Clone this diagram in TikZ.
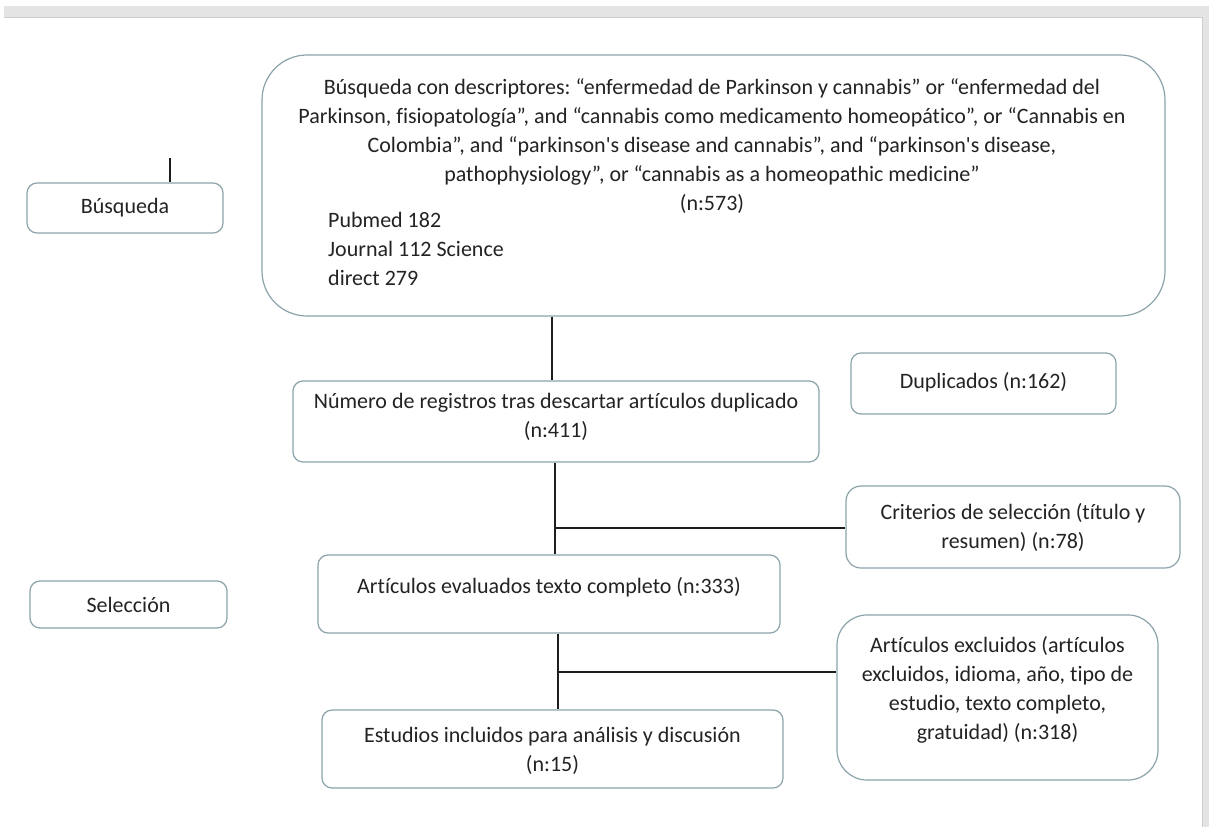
\documentclass[tikz,border=0pt]{standalone}
\usepackage{fontspec}
\newfontfamily\calib{Carlito}[Ligatures=NoCommon]
\definecolor{boxc}{RGB}{140,163,170}
\definecolor{txt}{RGB}{35,35,35}
\definecolor{linec}{RGB}{30,30,30}
\definecolor{frame}{RGB}{228,228,228}
\definecolor{frameline}{RGB}{205,205,205}
\tikzset{
  box/.style={draw=boxc, line width=1.2pt, rounded corners=10pt, fill=white,
    inner sep=0pt},
  plain/.style={align=center, text=txt, inner sep=0pt,
    font=\calib\fontsize{22}{29}\selectfont\frenchspacing},
  conn/.style={draw=linec, line width=1.4pt}
}
\begin{document}
\begin{tikzpicture}[x=1pt,y=-1pt]
\useasboundingbox (0,0) rectangle (1209,827);
\fill[white] (0,0) rectangle (1209,827);
% frame
\fill[frame] (4,6) rectangle (1209,17);
\draw[frameline, line width=0.8pt] (4,17) -- (1202,17) -- (1202,827);
\fill[frame] (1203,6) rectangle (1209,827);

% big top box
\node[box, rounded corners=45pt, minimum width=903pt, minimum height=261pt] (top) at (713.5,185.5) {};
\node[plain] (toptext) at (712,146) {Búsqueda con descriptores: “enfermedad de Parkinson y cannabis” or “enfermedad del\\
Parkinson, fisiopatología”, and “cannabis como medicamento homeopático”, or “Cannabis en\\
Colombia”, and “parkinson's disease and cannabis”, and “parkinson's disease,\\
pathophysiology”, or “cannabis as a homeopathic medicine”\\
(n:573)};
\node[plain, align=left, anchor=north west] (sources) at (328,212) {Pubmed 182\\Journal 112 Science\\direct 279};

\node[box, minimum width=196pt, minimum height=50pt] (busq) at (125,208) {};
\node[plain] (busqt) at (busq.center) {Búsqueda};
\node[box, minimum width=197pt, minimum height=47pt] (sel) at (128.5,604.5) {};
\node[plain] (selt) at (sel.center) {Selección};

\node[box, minimum width=526pt, minimum height=81pt] (nreg) at (556,421.5) {};
\node[plain] (nregt) at ([yshift=5pt]nreg.center) {Número de registros tras descartar artículos duplicado\\(n:411)};
\node[box, minimum width=265pt, minimum height=61pt] (dup) at (983.5,383.5) {};
\node[plain] (dupt) at ([yshift=1pt]dup.center) {Duplicados (n:162)};
\node[box, rounded corners=15pt, minimum width=334pt, minimum height=82pt] (crit) at (1013,527) {};
\node[plain] (critt) at (crit.center) {Criterios de selección (título y\\resumen) (n:78)};
\node[box, minimum width=462pt, minimum height=78pt] (eval) at (549,594) {};
\node[plain] (evalt) at ([yshift=7pt]eval.center) {Artículos evaluados texto completo (n:333)};
\node[box, rounded corners=30pt, minimum width=321pt, minimum height=165pt] (excl) at (997.5,697.5) {};
\node[plain] (exclt) at ([yshift=8pt]excl.center) {Artículos excluidos (artículos\\excluidos, idioma, año, tipo de\\estudio, texto completo,\\gratuidad) (n:318)};
\node[box, minimum width=461pt, minimum height=78pt] (estud) at (552.5,749) {};
\node[plain] (estudt) at ([yshift=-2pt]estud.center) {Estudios incluidos para análisis y discusión\\(n:15)};

% connectors
\coordinate (bt) at (170,158);
\draw[conn] (bt) -- (bt |- busq.north);
\coordinate (c1) at (552,0);
\draw[conn] (top.south -| c1) -- (nreg.north -| c1);
\coordinate (c2) at (555,528);
\draw[conn] (nreg.south -| c2) -- (eval.north -| c2);
\draw[conn] (c2) -- (c2 -| crit.west);
\coordinate (c3) at (558,672);
\draw[conn] (eval.south -| c3) -- (estud.north -| c3);
\draw[conn] (c3) -- (c3 -| excl.west);
\end{tikzpicture}
\end{document}
